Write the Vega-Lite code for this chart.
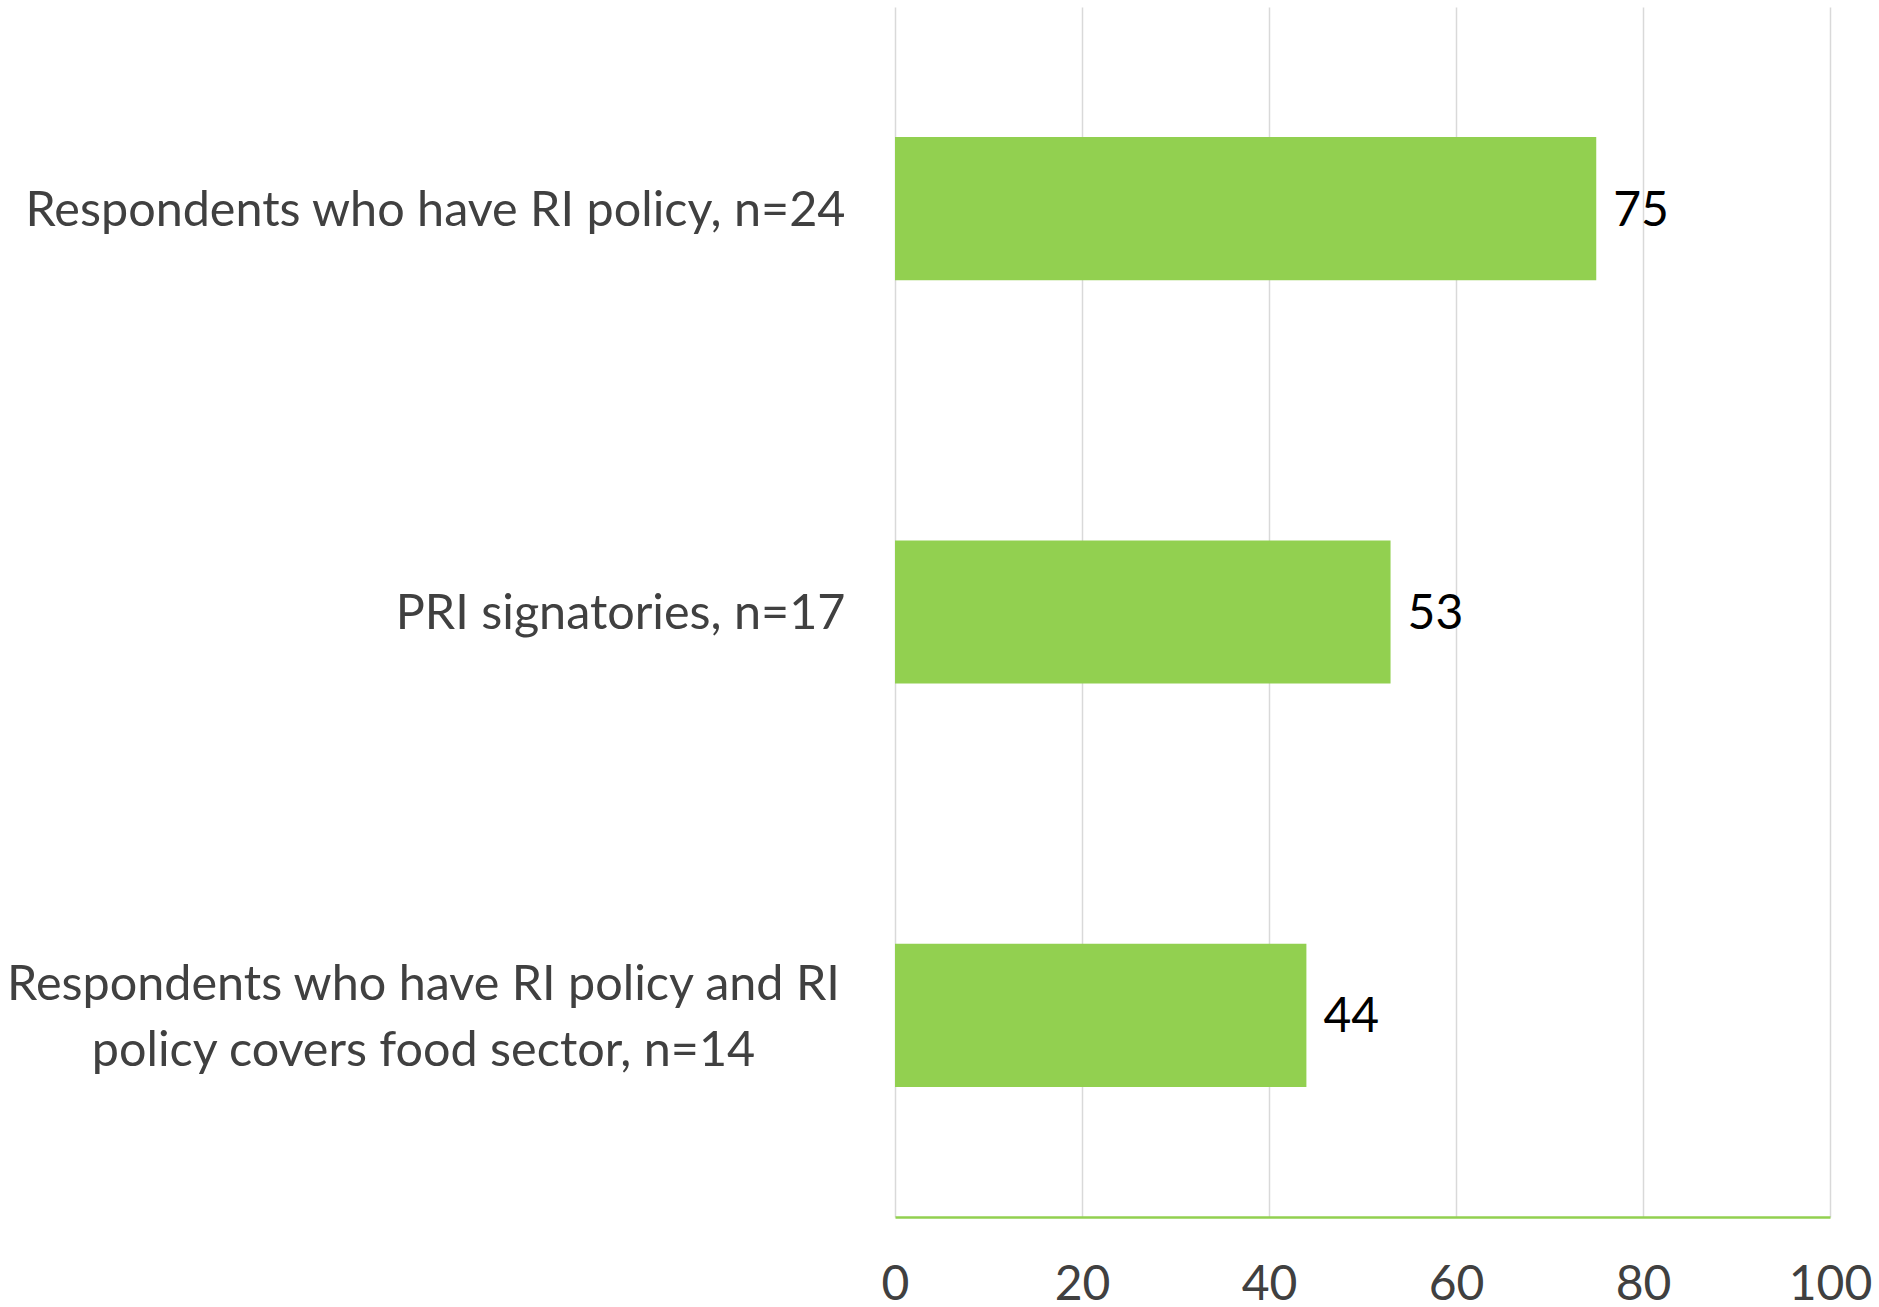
{
  "$schema": "https://vega.github.io/schema/vega-lite/v6.json",
  "width": 935,
  "height": 1210,
  "padding": {"left": 0, "top": 7, "right": 0, "bottom": 0},
  "background": "white",
  "data": {
    "values": [
      {"group": "Respondents who have RI policy, n=24", "value": 75},
      {"group": "PRI signatories, n=17", "value": 53},
      {"group": "Respondents who have RI policy and RI policy covers food sector, n=14", "value": 44}
    ]
  },
  "config": {
    "view": {"stroke": null},
    "font": "Lato"
  },
  "encoding": {
    "y": {
      "field": "group",
      "type": "nominal",
      "sort": null,
      "scale": {"paddingInner": 0.645, "paddingOuter": 0.3225},
      "axis": {
        "title": null,
        "domain": false,
        "ticks": false,
        "grid": false,
        "labelFont": "Lato",
        "labelFontSize": 48.5,
        "labelColor": "#404040",
        "labelLimit": 1000,
        "labelLineHeight": 66,
        "minExtent": 895,
        "maxExtent": 895,
        "labelAlign": {"condition": {"test": "datum.value === 'Respondents who have RI policy and RI policy covers food sector, n=14'", "value": "center"}, "value": "right"},
        "labelPadding": {"condition": {"test": "datum.value === 'Respondents who have RI policy and RI policy covers food sector, n=14'", "value": 472}, "value": 50},
        "labelOffset": {"condition": {"test": "datum.value === 'Respondents who have RI policy and RI policy covers food sector, n=14'", "value": -30}, "value": 2},
        "labelExpr": "datum.value === 'Respondents who have RI policy and RI policy covers food sector, n=14' ? ['Respondents who have RI policy and RI', 'policy covers food sector, n=14'] : datum.value"
      }
    },
    "x": {
      "field": "value",
      "type": "quantitative",
      "scale": {"domain": [0, 100]},
      "axis": {
        "title": null,
        "values": [0, 20, 40, 60, 80, 100],
        "ticks": false,
        "domainColor": "#92D050",
        "domainWidth": 2.5,
        "gridColor": "#D9D9D9",
        "gridWidth": 1.5,
        "labelFont": "Lato",
        "labelFontSize": 48,
        "labelColor": "#404040",
        "labelPadding": 44,
        "labelFlush": false
      }
    }
  },
  "layer": [
    {"mark": {"type": "bar", "color": "#92D050"}},
    {
      "mark": {"type": "text", "align": "left", "baseline": "middle", "dx": 17, "dy": 3, "font": "Lato", "fontSize": 48, "color": "#000000"},
      "encoding": {"text": {"field": "value", "type": "quantitative"}}
    }
  ]
}
